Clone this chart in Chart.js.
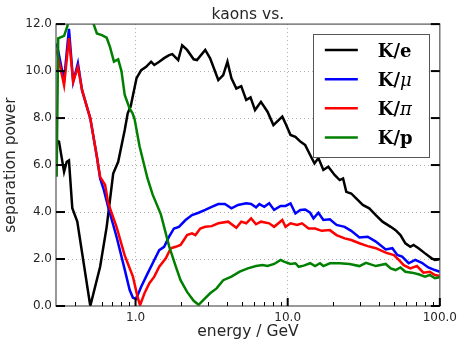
<!DOCTYPE html>
<html><head><meta charset="utf-8">
<script src="https://cdn.jsdelivr.net/npm/chart.js@4"></script>
<style>html,body{margin:0;padding:0;background:#fff}</style>
</head><body>
<canvas id="c" width="462" height="342"></canvas>
<script>
// ---- data ----
const chartTitle = 'kaons vs.';
const xTitle = 'energy / GeV';
const yTitle = 'separation power';
const legendLabels = ['K/e', 'K/μ', 'K/π', 'K/p'];
const seriesColors = ['#000000', '#0000ff', '#ff0000', '#008000'];

const keEnergy = [0.30,0.314,0.339,0.353,0.365,0.384,0.414,0.504,0.585,0.646,0.713,0.769,0.849,0.888,0.929,0.971,1.015,1.089,1.174,1.265,1.328,1.431,1.541,1.661,1.744,1.907,2.025,2.181,2.41,2.533,2.87,3.092,3.499,3.769,4.018,4.271,4.598,4.951,5.337,5.699,6.1,6.671,7.37,8.058,9.216,9.68,10.44,11.24,12.11,13.04,14.05,15.0,15.92,17.16,18.49,20.4,21.97,23.13,24.28,26.16,28.18,31.15,34.36,37.96,42.01,47.53,51.18,55.1,59.38,63.98,67.22,72.41,80.0,88.4,92.85,100];
const keValue  = [7.05,7.0,5.71,6.14,6.2,4.16,3.59,0.0,1.67,3.37,5.64,6.14,7.49,8.2,8.5,9.1,9.7,10.04,10.18,10.4,10.26,10.4,10.55,10.68,10.72,10.47,11.1,10.9,10.5,10.47,10.9,10.54,9.62,9.83,10.4,9.69,9.26,9.36,8.77,8.88,8.34,8.69,8.27,7.7,8.06,7.77,7.28,7.2,7.0,6.85,6.43,6.07,6.3,5.79,5.93,5.57,5.36,5.43,4.86,4.79,4.58,4.3,4.16,3.87,3.59,3.37,3.23,3.02,2.67,2.52,2.6,2.46,2.24,2.03,1.96,1.99];

const kmuEnergy = [0.303,0.339,0.365,0.389,0.418,0.445,0.504,0.557,0.585,0.615,0.662,0.75,0.849,0.915,0.961,1.008,1.089,1.201,1.328,1.431,1.541,1.661,1.789,1.927,2.131,2.351,2.596,2.87,3.166,3.499,3.866,4.271,4.718,5.337,5.75,6.193,6.51,7.014,7.558,8.144,8.983,9.68,10.44,11.24,12.11,13.04,14.05,14.78,15.92,17.16,18.93,20.94,23.68,26.16,29.61,33.55,37.96,44.1,48.74,52.51,56.5,62.4,68.9,76.2,84.0,92.85,100];
const kmuValue  = [11.18,9.6,11.8,9.54,10.33,9.19,7.99,6.35,5.43,5.0,4.2,2.95,1.55,0.68,0.35,0.3,0.82,1.39,1.96,2.38,2.52,2.95,3.3,3.37,3.66,3.87,3.97,4.09,4.22,4.34,4.34,4.16,4.3,4.37,4.34,4.2,4.34,4.22,4.37,4.09,4.26,4.26,4.37,3.94,4.09,4.11,3.97,3.73,3.97,3.66,3.69,3.45,3.37,3.2,2.92,2.95,2.74,2.41,2.46,2.17,2.1,1.82,1.96,1.84,1.64,1.53,1.46];

const kpiEnergy = [0.303,0.339,0.365,0.389,0.418,0.445,0.504,0.557,0.585,0.631,0.662,0.75,0.849,0.961,1.03,1.07,1.145,1.233,1.328,1.431,1.581,1.703,1.835,1.976,2.078,2.181,2.351,2.473,2.664,2.87,3.166,3.499,4.062,4.598,4.951,5.337,5.75,6.193,6.671,7.558,8.144,9.216,9.68,10.44,11.53,12.42,13.72,15.14,16.73,18.93,20.94,23.68,26.16,29.61,33.55,37.96,44.1,49.87,53.76,57.9,63.98,70.7,78.0,85.9,92.85,100];
const kpiValue  = [10.9,9.4,11.4,9.54,10.18,9.19,7.99,6.35,5.5,5.15,4.37,3.37,2.15,1.25,0.4,0.03,0.54,0.97,1.25,1.67,2.03,2.46,2.52,2.6,2.81,3.02,3.09,3.02,3.3,3.37,3.4,3.52,3.59,3.33,3.59,3.52,3.73,3.48,3.59,3.52,3.37,3.66,3.37,3.52,3.45,3.52,3.3,3.3,3.2,3.23,3.02,2.88,2.81,2.67,2.55,2.46,2.27,2.17,1.96,1.74,1.6,1.7,1.42,1.46,1.32,1.28];

const kpEnergy = [0.303,0.31,0.339,0.356,0.374,0.52,0.53,0.557,0.6,0.646,0.679,0.721,0.769,0.808,0.849,0.915,0.956,0.986,1.0625,1.196,1.294,1.467,1.661,1.835,1.976,2.181,2.41,2.596,2.797,3.092,3.41,3.769,4.271,4.838,5.47,6.193,6.842,7.37,8.144,8.983,9.45,10.44,11.24,11.82,12.74,14.05,15.14,16.31,17.16,18.93,21.97,25.51,29.61,32.72,37.96,44.1,47.53,51.18,55.1,59.38,65.6,72.41,80,85.9,92.85,100];
const kpValue  = [5.5,11.39,11.5,11.9,12.6,12.1,12.0,11.6,11.53,11.42,11.03,10.4,10.5,10.0,8.98,8.4,8.2,7.95,6.8,5.45,4.75,3.9,2.55,1.7,1.1,0.6,0.22,0.05,0.26,0.54,0.75,1.1,1.25,1.46,1.6,1.7,1.74,1.7,1.79,1.96,1.89,1.79,1.82,1.67,1.72,1.82,1.7,1.82,1.7,1.82,1.82,1.79,1.7,1.84,1.7,1.79,1.6,1.53,1.64,1.46,1.42,1.35,1.25,1.32,1.18,1.22];

const xMin = 0.3, xMax = 100;
const xTickValues = [1, 10, 100];
const xMinorTickValues = [0.4,0.5,0.6,0.7,0.8,0.9,2,3,4,5,6,7,8,9,20,30,40,50,60,70,80,90];
const yMin = 0, yMax = 12;
const yTickValues = [0, 2, 4, 6, 8, 10, 12];

// ---- drawing ----
Chart.defaults.font.family = '"DejaVu Sans", sans-serif';
const pts = (xs, ys) => xs.map((x, i) => ({x: x, y: ys[i]}));
const TXT = '#262626';

const framePlugin = {
  id: 'frame',
  afterDatasetsDraw(chart) {
    const c = chart.ctx, a = chart.chartArea;
    const xs = chart.scales.x, ys = chart.scales.y;
    c.save();
    c.strokeStyle = '#555';
    c.lineWidth = 1.2;
    c.strokeRect(a.left, a.top, a.right - a.left, a.bottom - a.top);
    c.strokeStyle = '#000';
    c.lineWidth = 2;
    yTickValues.forEach(v => {
      const y = ys.getPixelForValue(v);
      c.beginPath(); c.moveTo(a.left, y); c.lineTo(a.left + 9, y); c.stroke();
      c.beginPath(); c.moveTo(a.right, y); c.lineTo(a.right - 9, y); c.stroke();
    });
    xTickValues.forEach(v => {
      const x = xs.getPixelForValue(v);
      c.beginPath(); c.moveTo(x, a.bottom); c.lineTo(x, a.bottom - 8); c.stroke();
    });
    c.lineWidth = 1;
    xMinorTickValues.forEach(v => {
      const x = Math.round(xs.getPixelForValue(v)) + 0.5;
      c.beginPath(); c.moveTo(x, a.bottom); c.lineTo(x, a.bottom - 4); c.stroke();
    });
    c.restore();
  },
  afterDraw(chart) {
    const c = chart.ctx, a = chart.chartArea;
    const bx = a.right - 127, by = a.top + 10, bw = 116, bh = 123;
    c.save();
    c.fillStyle = '#fff';
    c.fillRect(bx, by, bw, bh);
    c.strokeStyle = '#555';
    c.lineWidth = 1;
    c.strokeRect(Math.round(bx) + 0.5, Math.round(by) + 0.5, bw, bh);
    legendLabels.forEach((lab, i) => {
      const y = by + 16 + i * 29.1;
      c.strokeStyle = seriesColors[i];
      c.lineWidth = 2.5;
      c.beginPath(); c.moveTo(bx + 12, y); c.lineTo(bx + 45, y); c.stroke();
      const pre = lab.slice(0, -1), suf = lab.slice(-1);
      const greek = /[μπ]/.test(suf);
      c.fillStyle = '#000';
      c.textBaseline = 'alphabetic';
      c.font = 'bold 18px "DejaVu Serif"';
      const tx = bx + 65;
      c.fillText(pre, tx, y + 6.5);
      const w = c.measureText(pre).width;
      c.font = greek ? 'italic 18px "DejaVu Serif"' : 'bold 18px "DejaVu Serif"';
      c.fillText(suf, tx + w, y + 6.5);
    });
    c.restore();
  }
};

const ds = (label, xs, ys, color, order) => ({
  label: label, data: pts(xs, ys), borderColor: color, backgroundColor: color,
  borderWidth: 2.5, pointRadius: 0, tension: 0, fill: false, order: order, clip: 0
});

const gridColor = (hide) => (ctx) => hide.includes(ctx.tick && ctx.tick.value) ? 'rgba(0,0,0,0)' : '#b0b0b0';

new Chart(document.getElementById('c'), {
  type: 'line',
  data: {
    datasets: [
      ds(legendLabels[0], keEnergy, keValue, seriesColors[0], 3),
      ds(legendLabels[1], kmuEnergy, kmuValue, seriesColors[1], 2),
      ds(legendLabels[2], kpiEnergy, kpiValue, seriesColors[2], 1),
      ds(legendLabels[3], kpEnergy, kpValue, seriesColors[3], 0)
    ]
  },
  options: {
    responsive: false,
    animation: false,
    layout: {padding: {left: 0, right: 17, top: 0, bottom: 0}},
    plugins: {
      legend: {display: false},
      tooltip: {enabled: false},
      title: {display: true, text: chartTitle, fullSize: false, color: TXT,
        font: {size: 15.5, weight: 'normal'}, padding: {top: 5.5, bottom: 0}}
    },
    scales: {
      x: {
        type: 'logarithmic', min: xMin, max: xMax,
        afterBuildTicks: s => { s.ticks = xTickValues.map(v => ({value: v, major: true})); },
        afterFit: s => { s.height = 36; },
        ticks: {autoSkip: false, maxRotation: 0, padding: 5, color: TXT, font: {size: 12},
          callback: v => Number(v).toFixed(1)},
        grid: {drawTicks: false, color: gridColor([100]), lineWidth: 1},
        border: {display: false, dash: [1, 3]},
        title: {display: true, text: xTitle, color: TXT, font: {size: 15.5}, padding: {top: 0, bottom: 1}}
      },
      y: {
        min: yMin, max: yMax,
        afterBuildTicks: s => { s.ticks = yTickValues.map(v => ({value: v})); },
        afterFit: s => { s.width = 56; },
        ticks: {padding: 4, color: TXT, font: {size: 12}, callback: v => Number(v).toFixed(1)},
        grid: {drawTicks: false, color: gridColor([0, 12]), lineWidth: 1},
        border: {display: false, dash: [1, 3]},
        title: {display: true, text: yTitle, color: TXT, font: {size: 15.5}, padding: {top: 2, bottom: 0}}
      }
    }
  },
  plugins: [framePlugin]
});
</script>
</body></html>
